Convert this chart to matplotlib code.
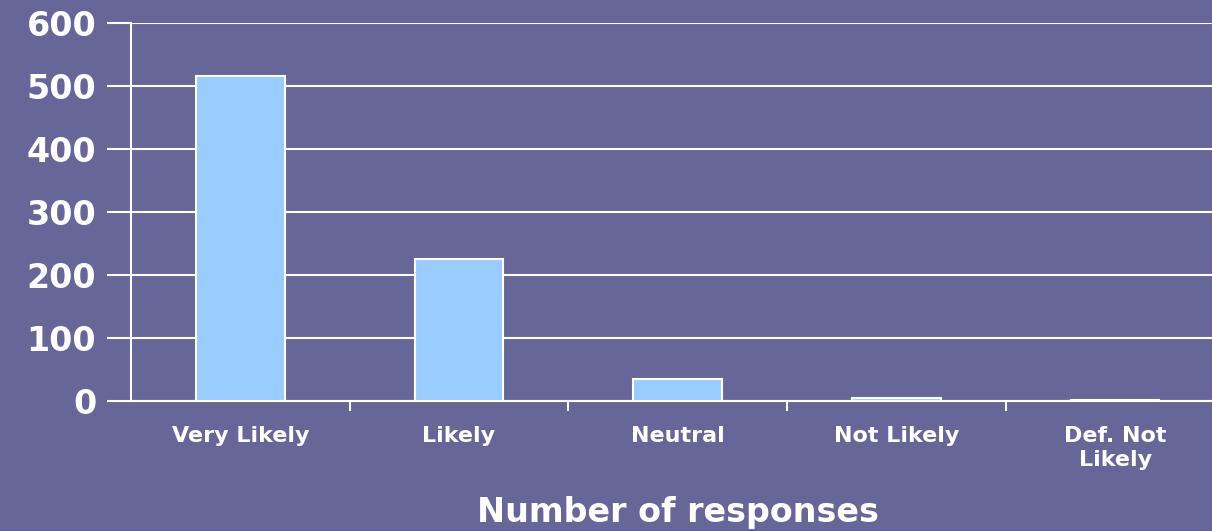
import matplotlib.pyplot as plt
import numpy as np

# Data
categories = ["Very Likely", "Likely", "Neutral", "Not Likely", "Def. Not\nLikely"]
responses = [516, 225, 35, 4, 2]

bg = "#666699"
bar_color = "#99ccff"

# the reference uses a wide bold face; DejaVu Sans Bold is the closest wide one
plt.rcParams['font.family'] = ['DejaVu Sans']
plt.rcParams['font.weight'] = 'bold'

fig = plt.figure(figsize=(12.12, 5.31), dpi=100, facecolor=bg)
ax = fig.add_axes([0.1081, 0.2448, 0.9022, 0.7128], facecolor=bg)

x = np.arange(len(categories))
ax.bar(x, responses, 0.405, color=bar_color, edgecolor="white", linewidth=1.5, zorder=3)

ax.set_xlim(-0.5, len(categories) - 0.5)
ax.set_ylim(0, 600)
ax.set_yticks(np.arange(0, 601, 100))
ax.yaxis.grid(True, color="white", linewidth=1.5, zorder=0)

# category ticks sit on the boundaries between bars
ax.set_xticks(x)
ax.set_xticklabels(categories, fontsize=16, fontweight="bold", color="white", linespacing=1.25)
ax.tick_params(axis="x", length=0, pad=18)
ax.set_xticks(np.arange(0.5, len(categories) - 1, 1), minor=True)
ax.tick_params(axis="x", which="minor", length=7, width=1.5, color="white", direction="out")
ax.tick_params(axis="y", length=17, width=1.5, color="white", labelsize=24, labelcolor="white", pad=8)
for lab in ax.get_yticklabels():
    lab.set_fontweight("bold")

for side in ["top", "right"]:
    ax.spines[side].set_visible(False)
for side in ["left", "bottom"]:
    ax.spines[side].set_color("white")
    ax.spines[side].set_linewidth(1.5)

ax.set_xlabel("Number of responses", fontsize=24, fontweight="bold", color="white", labelpad=19)

plt.savefig("out.png", facecolor=bg)
